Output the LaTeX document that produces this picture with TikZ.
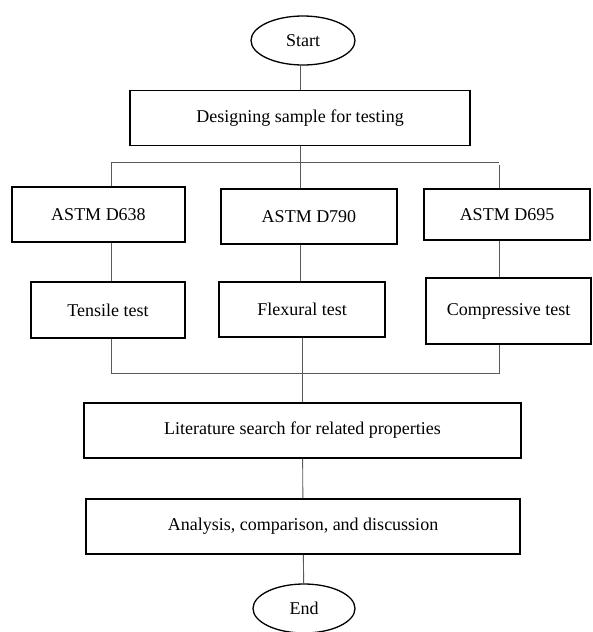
\documentclass[tikz,border=0pt]{standalone}
\usepackage{fontspec}
\setmainfont{Liberation Serif}
\usetikzlibrary{shapes.geometric}

\begin{document}
\begin{tikzpicture}[x=1pt,y=-1pt,
    every node/.style={font=\fontsize{18}{21}\selectfont,inner sep=0pt},
    block/.style={draw,line width=1.6pt,rectangle,minimum width=#1,minimum height=55},
    terminal/.style={draw,line width=1.3pt,ellipse,minimum width=104,minimum height=49},
    link/.style={draw=black!65,line width=0.9pt}]
      \useasboundingbox (0,0) rectangle (592,632);

      \node[terminal] (start) at (303,40.5) {Start};
      \node[block=340] (design) at (300,118) {Designing sample for testing};

      \node[block=173] (astmA) at (98.5,214.5) {ASTM D638};
      \node[block=176] (astmB) at (309,216.5) {ASTM D790};
      \node[block=166,minimum height=51] (astmC) at (507,214.5) {ASTM D695};

      \node[block=154,minimum height=56] (tensile) at (108,310) {Tensile test};
      \node[block=166] (flexural) at (302,309.5) {Flexural test};
      \node[block=165,minimum height=66] (compressive) at (508.5,311) {Compressive test};

      \node[block=437] (lit) at (302.5,430.5) {Literature search for related properties};
      \node[block=434] (anal) at (303,526.5) {Analysis, comparison, and discussion};
      \node[terminal,minimum width=102] (finish) at (304,608.5) {End};

      \coordinate (splitL) at (111,162);
      \coordinate (splitR) at (499,162);
      \coordinate (joinL) at (111,373);
      \coordinate (joinR) at (499,373);

      \draw[link] (start.south -| design) -- (design);
      \draw[link] (design) -- (design |- splitL);
      \draw[link] (splitL) -- (splitR);
      \draw[link] (splitL) -- (splitL |- astmA.north);
      \draw[link] (design |- splitL) -- (design |- astmB.north);
      \draw[link] ([yshift=-3pt]splitR) -- (splitR |- astmC.north);

      \draw[link] (splitL |- astmA.south) -- (splitL |- tensile.north);
      \draw[link] (design |- astmB.south) -- (design |- flexural.north);
      \draw[link] (splitR |- astmC.south) -- (splitR |- compressive.north);

      \draw[link] (splitL |- tensile.south) -- (joinL) -- (joinR) -- (splitR |- compressive.south);
      \draw[link] (lit |- flexural.south) -- (lit);
      \draw[link] (lit) -- (anal);
      \draw[link] (anal) -- (finish);
    \end{tikzpicture}
\end{document}
